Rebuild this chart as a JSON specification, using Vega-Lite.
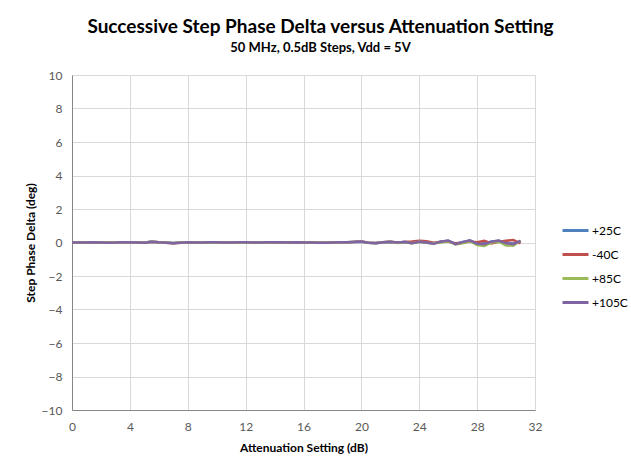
{
  "$schema": "https://vega.github.io/schema/vega-lite/v6.json",
  "width": 463,
  "height": 335,
  "autosize": {"type": "none"},
  "padding": {"left": 72, "top": 75, "right": 96, "bottom": 59},
  "background": "white",
  "title": {
    "text": "Successive Step Phase Delta versus Attenuation Setting",
    "subtitle": "50 MHz, 0.5dB Steps, Vdd = 5V",
    "anchor": "middle",
    "dx": 17,
    "offset": 14,
    "font": "Lato",
    "fontSize": 19,
    "fontWeight": "bold",
    "color": "#000000",
    "subtitleFont": "Lato",
    "subtitleFontSize": 13,
    "subtitleFontWeight": "bold",
    "subtitleColor": "#000000",
    "subtitlePadding": 5
  },
  "data": {
    "values": [
      {"a": 0, "+25C": 0, "-40C": 0, "+85C": 0, "+105C": 0},
      {"a": 0.5, "+25C": 0, "-40C": 0.01, "+85C": 0, "+105C": 0},
      {"a": 1, "+25C": 0, "-40C": 0, "+85C": -0.01, "+105C": 0},
      {"a": 1.5, "+25C": 0.01, "-40C": 0, "+85C": 0.01, "+105C": 0.01},
      {"a": 2, "+25C": 0, "-40C": 0, "+85C": 0, "+105C": 0},
      {"a": 2.5, "+25C": 0, "-40C": -0.01, "+85C": 0, "+105C": -0.01},
      {"a": 3, "+25C": -0.01, "-40C": 0, "+85C": 0, "+105C": 0},
      {"a": 3.5, "+25C": 0.02, "-40C": 0.01, "+85C": 0.02, "+105C": 0.02},
      {"a": 4, "+25C": 0.01, "-40C": 0.01, "+85C": 0.01, "+105C": 0.01},
      {"a": 4.5, "+25C": 0, "-40C": 0, "+85C": 0, "+105C": 0},
      {"a": 5, "+25C": 0, "-40C": -0.01, "+85C": 0, "+105C": -0.01},
      {"a": 5.5, "+25C": 0.04, "-40C": 0.05, "+85C": 0.04, "+105C": 0.05},
      {"a": 6, "+25C": 0.01, "-40C": 0.01, "+85C": 0.01, "+105C": 0.01},
      {"a": 6.5, "+25C": 0, "-40C": -0.01, "+85C": -0.01, "+105C": -0.02},
      {"a": 7, "+25C": -0.03, "-40C": -0.04, "+85C": -0.03, "+105C": -0.04},
      {"a": 7.5, "+25C": 0, "-40C": -0.01, "+85C": 0, "+105C": -0.01},
      {"a": 8, "+25C": 0.01, "-40C": 0.01, "+85C": 0.01, "+105C": 0.01},
      {"a": 8.5, "+25C": 0, "-40C": 0, "+85C": 0, "+105C": 0},
      {"a": 9, "+25C": 0, "-40C": 0, "+85C": 0.01, "+105C": 0},
      {"a": 9.5, "+25C": 0.01, "-40C": 0.01, "+85C": 0, "+105C": 0.01},
      {"a": 10, "+25C": 0, "-40C": 0.01, "+85C": 0.01, "+105C": 0.01},
      {"a": 10.5, "+25C": 0.01, "-40C": 0, "+85C": 0, "+105C": 0},
      {"a": 11, "+25C": 0, "-40C": 0, "+85C": 0, "+105C": 0},
      {"a": 11.5, "+25C": 0, "-40C": 0.01, "+85C": 0.01, "+105C": 0.01},
      {"a": 12, "+25C": 0.01, "-40C": 0.01, "+85C": 0, "+105C": 0.01},
      {"a": 12.5, "+25C": 0, "-40C": 0, "+85C": 0, "+105C": 0},
      {"a": 13, "+25C": 0.01, "-40C": 0, "+85C": 0.01, "+105C": 0},
      {"a": 13.5, "+25C": 0, "-40C": 0.01, "+85C": 0, "+105C": 0.01},
      {"a": 14, "+25C": 0.01, "-40C": 0.01, "+85C": 0.01, "+105C": 0.01},
      {"a": 14.5, "+25C": 0, "-40C": 0, "+85C": 0.01, "+105C": 0.01},
      {"a": 15, "+25C": 0.01, "-40C": 0, "+85C": 0, "+105C": 0},
      {"a": 15.5, "+25C": 0, "-40C": 0.01, "+85C": 0.01, "+105C": 0.01},
      {"a": 16, "+25C": 0, "-40C": 0, "+85C": 0, "+105C": 0},
      {"a": 16.5, "+25C": 0.01, "-40C": 0, "+85C": 0, "+105C": 0},
      {"a": 17, "+25C": -0.01, "-40C": -0.02, "+85C": -0.01, "+105C": -0.01},
      {"a": 17.5, "+25C": -0.02, "-40C": -0.02, "+85C": -0.01, "+105C": -0.02},
      {"a": 18, "+25C": 0, "-40C": 0, "+85C": 0, "+105C": 0},
      {"a": 18.5, "+25C": 0.01, "-40C": 0.01, "+85C": 0.01, "+105C": 0.01},
      {"a": 19, "+25C": 0.02, "-40C": 0.01, "+85C": 0.02, "+105C": 0.02},
      {"a": 19.5, "+25C": 0.03, "-40C": 0.03, "+85C": 0.04, "+105C": 0.04},
      {"a": 20, "+25C": 0.05, "-40C": 0.06, "+85C": 0.05, "+105C": 0.06},
      {"a": 20.5, "+25C": -0.02, "-40C": -0.01, "+85C": -0.02, "+105C": -0.02},
      {"a": 21, "+25C": -0.03, "-40C": -0.03, "+85C": -0.04, "+105C": -0.04},
      {"a": 21.5, "+25C": 0.02, "-40C": 0.02, "+85C": 0.01, "+105C": 0.02},
      {"a": 22, "+25C": 0.03, "-40C": 0.04, "+85C": 0.05, "+105C": 0.04},
      {"a": 22.5, "+25C": -0.02, "-40C": 0, "+85C": -0.03, "+105C": 0},
      {"a": 23, "+25C": 0.04, "-40C": 0.03, "+85C": 0.02, "+105C": 0.03},
      {"a": 23.5, "+25C": -0.03, "-40C": 0.06, "+85C": -0.04, "+105C": -0.05},
      {"a": 24, "+25C": 0.06, "-40C": 0.1, "+85C": 0.05, "+105C": 0.04},
      {"a": 24.5, "+25C": -0.02, "-40C": 0.08, "+85C": -0.02, "+105C": 0},
      {"a": 25, "+25C": -0.05, "-40C": -0.02, "+85C": -0.05, "+105C": -0.08},
      {"a": 25.5, "+25C": 0.06, "-40C": 0.04, "+85C": 0, "+105C": 0.05},
      {"a": 26, "+25C": 0.1, "-40C": 0.06, "+85C": 0.08, "+105C": 0.12},
      {"a": 26.5, "+25C": -0.08, "-40C": -0.05, "+85C": -0.12, "+105C": -0.1},
      {"a": 27, "+25C": 0.03, "-40C": -0.02, "+85C": -0.05, "+105C": 0.02},
      {"a": 27.5, "+25C": 0.12, "-40C": 0.06, "+85C": 0.08, "+105C": 0.13},
      {"a": 28, "+25C": -0.07, "-40C": 0.02, "+85C": -0.15, "+105C": -0.08},
      {"a": 28.5, "+25C": -0.05, "-40C": 0.1, "+85C": -0.2, "+105C": -0.1},
      {"a": 29, "+25C": 0.06, "-40C": -0.05, "+85C": 0, "+105C": 0.05},
      {"a": 29.5, "+25C": 0.1, "-40C": 0.04, "+85C": 0.05, "+105C": 0.12},
      {"a": 30, "+25C": -0.04, "-40C": 0.1, "+85C": -0.18, "+105C": -0.05},
      {"a": 30.5, "+25C": -0.06, "-40C": 0.15, "+85C": -0.2, "+105C": -0.1},
      {"a": 31, "+25C": 0.08, "-40C": -0.05, "+85C": 0.12, "+105C": 0.1}
    ]
  },
  "transform": [
    {"fold": ["+25C", "-40C", "+85C", "+105C"], "as": ["temp", "delta"]}
  ],
  "mark": {"type": "line", "strokeWidth": 2.5, "clip": true},
  "encoding": {
    "x": {
      "field": "a",
      "type": "quantitative",
      "scale": {"domain": [0, 32], "nice": false, "zero": false},
      "axis": {
        "title": "Attenuation Setting (dB)",
        "values": [0, 4, 8, 12, 16, 20, 24, 28, 32],
        "ticks": false,
        "labelPadding": 11,
        "titlePadding": 10,
        "labelFlush": false
      }
    },
    "y": {
      "field": "delta",
      "type": "quantitative",
      "scale": {"domain": [-10, 10], "nice": false},
      "axis": {
        "title": "Step Phase Delta (deg)",
        "values": [-10, -8, -6, -4, -2, 0, 2, 4, 6, 8, 10],
        "ticks": false,
        "labelPadding": 10,
        "titlePadding": 4
      }
    },
    "color": {
      "field": "temp",
      "type": "nominal",
      "scale": {
        "domain": ["+25C", "-40C", "+85C", "+105C"],
        "range": ["#4F81BD", "#C0504D", "#9BBB59", "#8064A2"]
      },
      "legend": {
        "title": null,
        "orient": "none",
        "legendX": 489,
        "legendY": 141,
        "symbolType": "stroke",
        "symbolSize": 676,
        "symbolStrokeWidth": 3,
        "rowPadding": 3,
        "labelOffset": 2,
        "labelFont": "Lato",
        "labelFontSize": 12,
        "labelColor": "#000000"
      }
    }
  },
  "config": {
    "view": {"stroke": null},
    "axis": {
      "grid": true,
      "gridColor": "#D9D9D9",
      "gridWidth": 1,
      "domainColor": "#868686",
      "domainWidth": 1,
      "labelFont": "Lato",
      "labelFontSize": 12,
      "labelColor": "#595959",
      "titleFont": "Lato",
      "titleFontSize": 12,
      "titleFontWeight": "bold",
      "titleColor": "#000000"
    }
  }
}
